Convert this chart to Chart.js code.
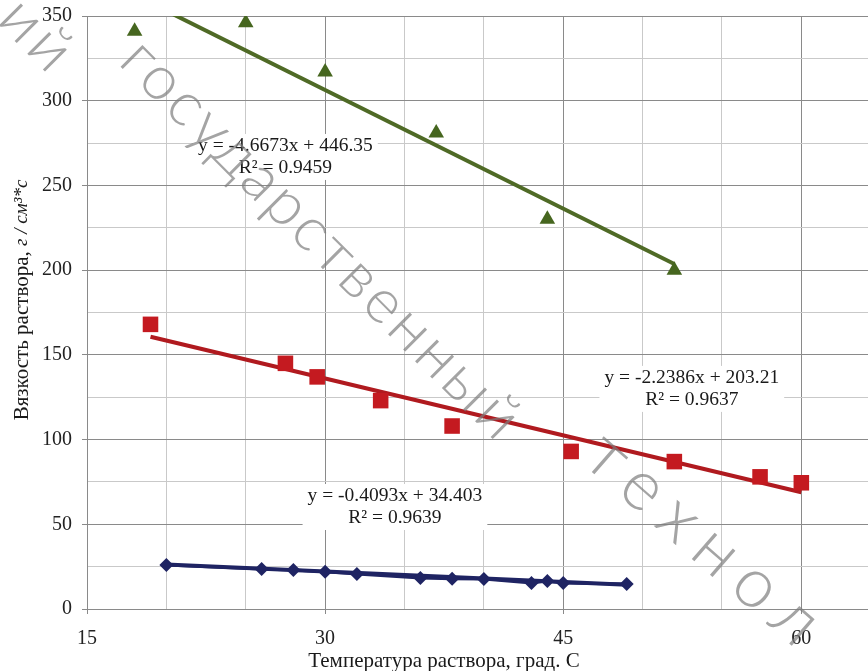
<!DOCTYPE html>
<html>
<head>
<meta charset="utf-8">
<script src="https://cdn.jsdelivr.net/npm/chart.js@4.4.1/dist/chart.umd.min.js"></script>
<style>
  html, body { margin: 0; padding: 0; background: #fff; }
  #chart { display: block; }
</style>
</head>
<body>
<canvas id="chart" width="868" height="671"></canvas>
<script>
// measured points, temperature (x) vs viscosity (y)
var blueX = [20, 26, 28, 30, 32, 36, 38, 40, 43, 44, 45, 49];
var blueY = [26, 23.6, 23, 22, 20.7, 18.3, 17.9, 17.7, 15.3, 16.5, 15.3, 14.8];

var redX = [19, 27.5, 29.5, 33.5, 38, 45.5, 52, 57.4, 60];
var redY = [168, 145, 137, 123, 108, 93, 87, 78, 74.5];

var greenX = [18, 25, 30, 37, 44, 52];
var greenY = [341, 346, 317, 281, 230, 200];

// trend lines as printed on the chart (blue, red, green)
var trendSlope = [-0.4093, -2.2386, -4.6673];
var trendIntercept = [34.403, 203.21, 446.35];
var trendEquation = ['y = -0.4093x + 34.403', 'y = -2.2386x + 203.21', 'y = -4.6673x + 446.35'];
var trendR2 = ['R² = 0.9639', 'R² = 0.9637', 'R² = 0.9459'];

var xTitle = 'Температура раствора, град. С';
var yTitle = 'Вязкость раствора, ';
var yUnits = 'г / см³*с';
var watermark = 'ий государственный технол';

var colors = ['#1f2463', '#c41a20', '#46661f'];
var lineColors = ['#1f2463', '#b01a1f', '#4f6a26'];
var serif = '"Liberation Serif", "Times New Roman", serif';

function points(xs, ys) {
    return xs.map(function(x, i) { return {x: x, y: ys[i]}; });
}

function trend(k, xs) {
    var x0 = xs[0], x1 = xs[xs.length - 1];
    return [
        {x: x0, y: trendSlope[k] * x0 + trendIntercept[k]},
        {x: x1, y: trendSlope[k] * x1 + trendIntercept[k]}
    ];
}

// where each equation box sits, in data units (blue, red, green)
var labelAt = [{x: 34.4, y: 66.7}, {x: 53.1, y: 136.4}, {x: 27.5, y: 273.3}];

// watermark words: centre, angle, length and size on the canvas
var markPlace = [
    {x: 38, y: 36, angle: 45, len: 80, size: 62},
    {x: 322, y: 240, angle: 45, len: 540, size: 62},
    {x: 708, y: 543, angle: 41, len: 300, size: 70}
];

var labelPlugin = {
    id: 'trendLabels',
    afterDatasetsDraw: function(chart) {
        var ctx = chart.ctx;
        var xs = chart.scales.x, ys = chart.scales.y;
        ctx.save();
        ctx.font = '19.5px ' + serif;
        ctx.textAlign = 'center';
        ctx.textBaseline = 'middle';
        labelAt.forEach(function(p, i) {
            var cx = xs.getPixelForValue(p.x);
            var cy = ys.getPixelForValue(p.y);
            var w = Math.max(ctx.measureText(trendEquation[i]).width, ctx.measureText(trendR2[i]).width);
            ctx.fillStyle = '#fff';
            ctx.fillRect(cx - w / 2 - 5, cy - 12, w + 10, 46);
            ctx.fillStyle = '#1a1a1a';
            ctx.fillText(trendEquation[i], cx, cy);
            ctx.fillText(trendR2[i], cx, cy + 22);
        });
        ctx.restore();
    }
};

var titlePlugin = {
    id: 'axisTitles',
    afterDraw: function(chart) {
        var ctx = chart.ctx;
        ctx.save();
        ctx.fillStyle = '#1a1a1a';
        ctx.textBaseline = 'middle';

        ctx.font = '21px ' + serif;
        ctx.textAlign = 'center';
        ctx.fillText(xTitle, 444, 661);

        // vertical title: regular part + italic units
        ctx.translate(22, 300);
        ctx.rotate(-Math.PI / 2);
        ctx.textAlign = 'left';
        ctx.font = '21px ' + serif;
        var w1 = ctx.measureText(yTitle).width;
        ctx.font = 'italic 19px ' + serif;
        var w2 = ctx.measureText(yUnits).width;
        var start = -(w1 + w2) / 2;
        ctx.font = '21px ' + serif;
        ctx.fillText(yTitle, start, 0);
        ctx.font = 'italic 19px ' + serif;
        ctx.fillText(yUnits, start + w1, 0);
        ctx.restore();

        // faint diagonal watermark, word by word
        watermark.split(' ').forEach(function(word, i) {
            var p = markPlace[i];
            ctx.save();
            ctx.font = '300 ' + p.size + 'px Lato, "Open Sans", sans-serif';
            var w = ctx.measureText(word).width;
            ctx.letterSpacing = Math.max(0, (p.len - w) / word.length) + 'px';
            ctx.translate(p.x, p.y);
            ctx.rotate(p.angle * Math.PI / 180);
            ctx.textAlign = 'center';
            ctx.textBaseline = 'middle';
            ctx.fillStyle = 'rgba(125,125,125,0.7)';
            ctx.fillText(word, 0, 0);
            ctx.restore();
        });
    }
};

var ctx = document.getElementById('chart').getContext('2d');
var chart = new Chart(ctx, {
    type: 'scatter',
    data: {
        datasets: [
            {
                label: 'blue',
                data: points(blueX, blueY),
                showLine: true,
                borderColor: lineColors[0],
                borderWidth: 3,
                backgroundColor: colors[0],
                pointStyle: 'rectRot',
                pointRadius: 7,
                pointBorderWidth: 0,
                order: 0
            },
            {
                label: 'red',
                data: points(redX, redY),
                backgroundColor: colors[1],
                pointStyle: 'rect',
                pointRadius: 11,
                pointBorderWidth: 0,
                order: 0
            },
            {
                label: 'green',
                data: points(greenX, greenY),
                backgroundColor: colors[2],
                pointStyle: 'triangle',
                pointRadius: 9,
                pointBorderWidth: 0,
                order: 0
            },
            {
                label: 'blue trend',
                data: trend(0, blueX),
                showLine: true,
                borderColor: lineColors[0],
                borderWidth: 4,
                pointRadius: 0,
                clip: 0,
                order: 1
            },
            {
                label: 'red trend',
                data: trend(1, redX),
                showLine: true,
                borderColor: lineColors[1],
                borderWidth: 4,
                pointRadius: 0,
                clip: 0,
                order: 1
            },
            {
                label: 'green trend',
                data: trend(2, greenX),
                showLine: true,
                borderColor: lineColors[2],
                borderWidth: 4,
                pointRadius: 0,
                clip: 0,
                order: 1
            }
        ]
    },
    options: {
        responsive: false,
        animation: false,
        layout: { autoPadding: false, padding: { top: 16, right: 0, left: 0, bottom: 0 } },
        plugins: {
            legend: { display: false },
            tooltip: { enabled: false }
        },
        scales: {
            x: {
                type: 'linear',
                min: 15,
                max: 64.2,
                afterFit: function(scale) {
                    scale.height = 62;
                    scale.paddingLeft = 0;
                    scale.paddingRight = 0;
                },
                ticks: {
                    stepSize: 5,
                    includeBounds: false,
                    autoSkip: false,
                    maxRotation: 0,
                    padding: 13,
                    color: '#222',
                    font: { family: serif, size: 20 },
                    callback: function(v) { return v % 15 === 0 ? v : ''; }
                },
                grid: {
                    tickLength: 5,
                    color: function(c) { return c.tick && c.tick.value % 15 === 0 ? '#8a8a8a' : '#c9c9c9'; },
                    tickColor: function(c) { return c.tick && c.tick.value % 15 === 0 ? '#8a8a8a' : 'rgba(0,0,0,0)'; }
                },
                border: { color: '#8a8a8a' }
            },
            y: {
                min: 0,
                max: 350,
                afterFit: function(scale) {
                    scale.width = 87;
                    scale.paddingTop = 0;
                    scale.paddingBottom = 0;
                },
                ticks: {
                    stepSize: 25,
                    autoSkip: false,
                    padding: 10,
                    color: '#222',
                    font: { family: serif, size: 20 },
                    callback: function(v) { return v % 50 === 0 ? v : ''; }
                },
                grid: {
                    tickLength: 5,
                    color: function(c) { return c.tick && c.tick.value % 50 === 0 ? '#8a8a8a' : '#c9c9c9'; },
                    tickColor: function(c) { return c.tick && c.tick.value % 50 === 0 ? '#8a8a8a' : 'rgba(0,0,0,0)'; }
                },
                border: { color: '#8a8a8a' }
            }
        }
    },
    plugins: [labelPlugin, titlePlugin]
});
</script>
</body>
</html>
